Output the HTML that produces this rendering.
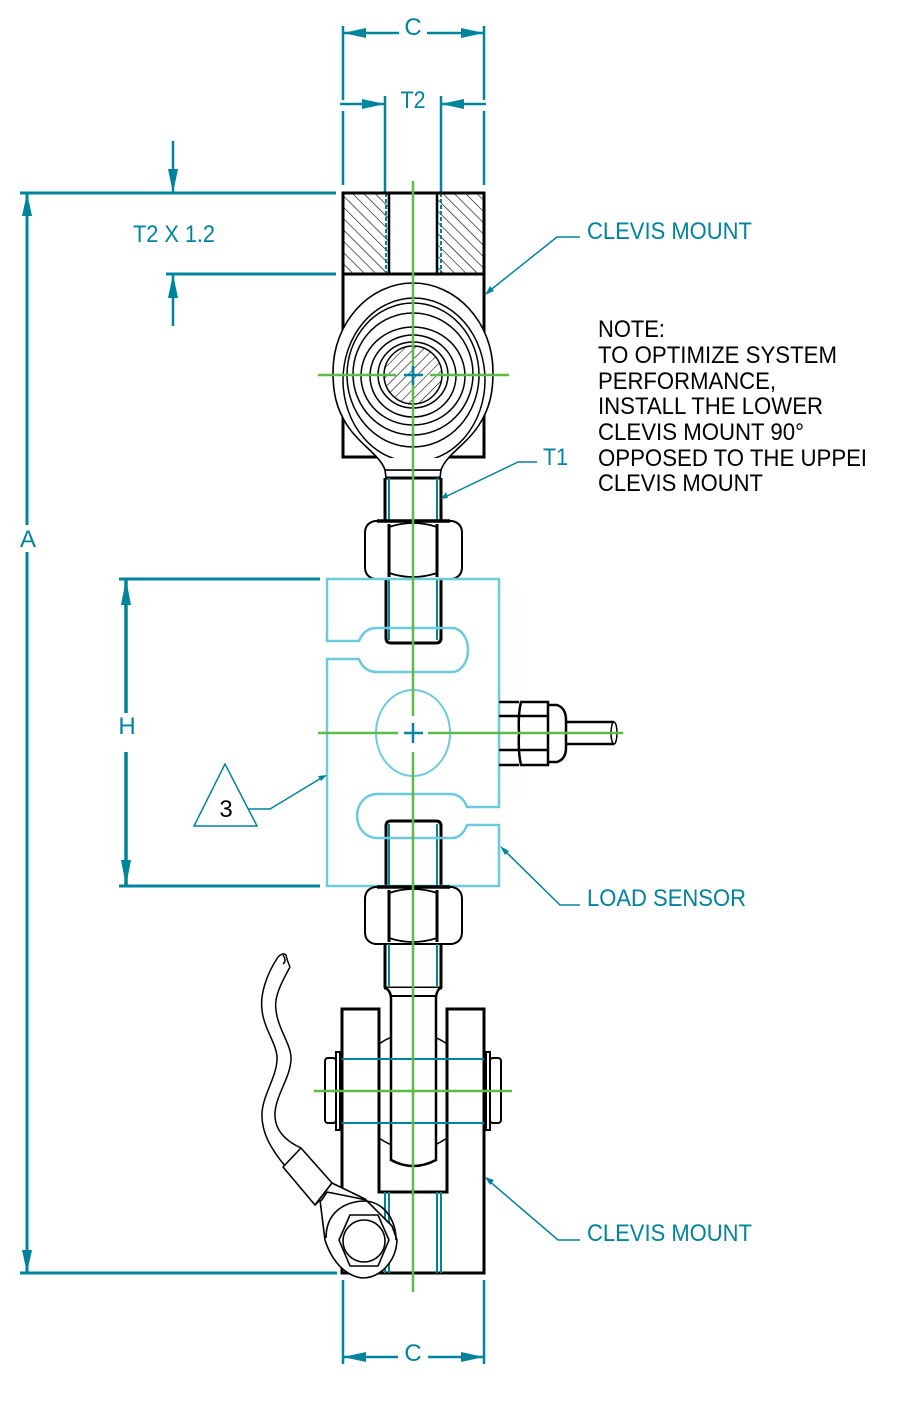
<!DOCTYPE html>
<html><head><meta charset="utf-8"><style>html,body{margin:0;padding:0;background:#fff}svg{display:block}text{font-family:"Liberation Sans",Arial,sans-serif}</style></head>
<body>
<svg width="898" height="1411" viewBox="0 0 898 1411" xmlns="http://www.w3.org/2000/svg">
<defs>
<pattern id="h1" patternUnits="userSpaceOnUse" width="8" height="8" patternTransform="rotate(-45)"><line x1="0" y1="0" x2="0" y2="8" stroke="#000" stroke-width="1.2"/></pattern>
<pattern id="h2" patternUnits="userSpaceOnUse" width="7" height="7" patternTransform="rotate(45)"><line x1="0" y1="0" x2="0" y2="7" stroke="#000" stroke-width="1.1"/></pattern>
<clipPath id="nc"><rect x="0" y="0" width="865" height="1411"/></clipPath>
</defs>
<rect width="898" height="1411" fill="#fff"/>

<!-- ===== Dimensions (teal) ===== -->
<g stroke="#00849b" stroke-width="2.5" fill="none">
  <!-- top C -->
  <line x1="343" y1="26" x2="343" y2="100"/><line x1="343" y1="111" x2="343" y2="185"/>
  <line x1="484" y1="26" x2="484" y2="100"/><line x1="484" y1="111" x2="484" y2="185"/>
  <line x1="343" y1="33" x2="399" y2="33"/><line x1="427" y1="33" x2="484" y2="33"/>
  <!-- T2 -->
  <line x1="340" y1="104" x2="385" y2="104"/><line x1="441" y1="104" x2="486" y2="104"/>
  <line x1="385" y1="96" x2="385" y2="193"/><line x1="441" y1="96" x2="441" y2="193"/>
  <!-- A -->
  <line x1="20" y1="193" x2="336" y2="193" stroke-width="3"/>
  <line x1="20" y1="1273" x2="337" y2="1273" stroke-width="3"/>
  <line x1="27" y1="193" x2="27" y2="525" stroke-width="3"/>
  <line x1="27" y1="552" x2="27" y2="1273" stroke-width="3"/>
  <!-- T2 x 1.2 -->
  <line x1="173" y1="141" x2="173" y2="193"/>
  <line x1="166" y1="274" x2="336" y2="274" stroke-width="3"/>
  <line x1="173" y1="274" x2="173" y2="326"/>
  <!-- H -->
  <line x1="119" y1="579" x2="320" y2="579" stroke-width="3"/>
  <line x1="119" y1="886" x2="320" y2="886" stroke-width="3"/>
  <line x1="126" y1="579" x2="126" y2="713" stroke-width="3.5"/>
  <line x1="126" y1="752" x2="126" y2="886" stroke-width="3.5"/>
  <!-- bottom C -->
  <line x1="343" y1="1280" x2="343" y2="1364"/><line x1="484" y1="1280" x2="484" y2="1364"/>
  <line x1="343" y1="1357" x2="398" y2="1357"/><line x1="428" y1="1357" x2="484" y2="1357"/>
</g>
<g fill="#00849b">
  <polygon points="343,33 366,28 366,38"/><polygon points="484,33 461,28 461,38"/>
  <polygon points="385,104 362,99 362,109"/><polygon points="441,104 464,99 464,109"/>
  <polygon points="27,193 22,216 32,216"/><polygon points="27,1273 22,1250 32,1250"/>
  <polygon points="173,193 168,169 178,169"/><polygon points="173,274 168,298 178,298"/>
  <polygon points="126,579 121,605 131,605"/><polygon points="126,886 121,860 131,860"/>
  <polygon points="343,1357 366,1352 366,1362"/><polygon points="484,1357 461,1352 461,1362"/>
</g>

<!-- ===== Top clevis block ===== -->
<rect x="343" y="193" width="46" height="81" fill="url(#h1)"/>
<rect x="437" y="193" width="47" height="81" fill="url(#h1)"/>
<g stroke="#00849b" stroke-width="2" stroke-dasharray="4 2"><line x1="386" y1="193" x2="386" y2="274"/><line x1="441" y1="193" x2="441" y2="274"/></g>
<g stroke="#000" stroke-width="2.5" fill="none">
  <line x1="389" y1="193" x2="389" y2="274"/><line x1="437" y1="193" x2="437" y2="274"/>
</g>
<rect x="343" y="193" width="141" height="81" fill="none" stroke="#000" stroke-width="3"/>
<!-- clevis body -->
<rect x="343" y="274" width="141" height="183" fill="none" stroke="#000" stroke-width="3"/>
<!-- eye -->
<path d="M385,470 C380,455 360,445 347,425 C336,408 333,392 333,372 C333,322 370,283 413,283 C456,283 493,322 493,372 C493,392 490,408 479,425 C466,445 446,455 441,470 Z" fill="#fff" stroke="#000" stroke-width="1.6"/>
<g fill="none" stroke="#000" stroke-width="1.5">
  <ellipse cx="414" cy="380" rx="71" ry="82"/>
  <ellipse cx="413" cy="375" rx="66" ry="72"/>
  <ellipse cx="413" cy="374" rx="60" ry="61"/>
  <ellipse cx="413" cy="376" rx="52" ry="49"/>
  <ellipse cx="413" cy="376" rx="43" ry="41"/>
  <ellipse cx="413" cy="375" rx="35" ry="33"/>
</g>
<circle cx="413" cy="375" r="29" fill="url(#h2)" stroke="#000" stroke-width="1.5"/>
<!-- neck and rod -->
<rect x="386" y="458" width="54" height="12" fill="#fff"/>
<g stroke="#000" stroke-width="1.6" fill="none">
  <line x1="385" y1="470" x2="441" y2="470"/>
  <line x1="385" y1="470" x2="386" y2="478"/><line x1="441" y1="470" x2="440" y2="478"/>
</g>
<g stroke="#000" stroke-width="3"><line x1="385" y1="478" x2="441" y2="478"/><line x1="385" y1="478" x2="385" y2="521"/><line x1="441" y1="478" x2="441" y2="521"/></g>
<g stroke="#00849b" stroke-width="2"><line x1="389" y1="478" x2="389" y2="521"/><line x1="437" y1="478" x2="437" y2="521"/></g>

<!-- nut 1 -->
<g fill="none" stroke="#000">
  <path d="M375,521 L452,521 Q462,523 462,533 L462,567 Q462,577 452,579 L375,579 Q365,577 365,567 L365,533 Q365,523 375,521 Z" stroke-width="2"/>
  <line x1="377" y1="521" x2="450" y2="521" stroke-width="3.5"/>
  <line x1="389" y1="524" x2="389" y2="577" stroke-width="3"/><line x1="437" y1="524" x2="437" y2="577" stroke-width="3"/>
  <path d="M389,527 Q413,519 437,527 M389,573 Q413,581 437,573" stroke-width="1.8"/>
</g>

<!-- ===== Load sensor ===== -->
<g stroke="#000" stroke-width="3" fill="none">
  <path d="M386,579 L386,638 Q386,643 391,643 L436,643 Q441,643 441,638 L441,579"/>
  <path d="M386,886 L386,826 Q386,821 391,821 L436,821 Q441,821 441,826 L441,886"/>
</g>
<g stroke="#00849b" stroke-width="2"><line x1="389" y1="579" x2="389" y2="640"/><line x1="437" y1="579" x2="437" y2="640"/><line x1="389" y1="824" x2="389" y2="886"/><line x1="437" y1="824" x2="437" y2="886"/></g>
<path d="M327,641 L327,579 L499,579 L499,807 L467,807 Q462,794 450,794 L377,794 A20,22 0 0 0 377,838 L452,838 Q462,838 467,825 L499,825 L499,886 L327,886 L327,659 L359,659 Q364,672 377,672 L452,672 A16,22 0 0 0 452,628 L377,628 Q364,628 359,641 Z" fill="none" stroke="#6ccadb" stroke-width="2.5"/>
<ellipse cx="413" cy="733" rx="37" ry="43" fill="none" stroke="#6ccadb" stroke-width="2"/>
<!-- connector -->
<g stroke="#000" stroke-width="2.5" fill="none">
  <line x1="499" y1="702" x2="519" y2="702"/><line x1="499" y1="716" x2="519" y2="716"/>
  <line x1="499" y1="750" x2="519" y2="750"/><line x1="499" y1="765" x2="519" y2="765"/>
  <path d="M521,702 L548,702 L548,765 L521,765 Q518,752 519,733 Q518,714 521,702 Z"/>
  <line x1="519" y1="716" x2="548" y2="716"/><line x1="519" y1="750" x2="548" y2="750"/>
  <path d="M548,705 L557,705 Q566,708 566,720 L566,748 Q566,759 557,762 L548,762"/>
  <line x1="566" y1="722" x2="614" y2="722"/><line x1="566" y1="744" x2="614" y2="744"/>
</g>
<ellipse cx="614" cy="733" rx="3" ry="11" fill="none" stroke="#000" stroke-width="1.5"/>

<!-- nut 2 -->
<g fill="none" stroke="#000">
  <path d="M375,887 L452,887 Q462,889 462,899 L462,932 Q462,942 452,944 L375,944 Q365,942 365,932 L365,899 Q365,889 375,887 Z" stroke-width="2"/>
  <line x1="377" y1="887" x2="450" y2="887" stroke-width="3.5"/>
  <line x1="389" y1="890" x2="389" y2="942" stroke-width="3"/><line x1="437" y1="890" x2="437" y2="942" stroke-width="3"/>
  <path d="M389,893 Q413,885 437,893 M389,938 Q413,946 437,938" stroke-width="1.8"/>
</g>
<!-- lower rod -->
<g stroke="#000" stroke-width="3"><line x1="385" y1="944" x2="385" y2="988"/><line x1="441" y1="944" x2="441" y2="988"/><line x1="384" y1="988" x2="442" y2="988"/></g>
<g stroke="#00849b" stroke-width="2"><line x1="389" y1="944" x2="389" y2="986"/><line x1="437" y1="944" x2="437" y2="986"/></g>
<!-- eye circle in clevis -->
<circle cx="413" cy="1091" r="58" fill="none" stroke="#000" stroke-width="1.5"/>
<!-- shank -->
<path d="M386,988 Q391,992 391,998 L391,1160 Q413,1172 436,1160 L436,998 Q436,992 440,988" fill="#fff" stroke="#000" stroke-width="2.5"/>
<line x1="391" y1="996" x2="436" y2="996" stroke="#000" stroke-width="2"/>
<!-- lower clevis -->
<path d="M342,1009 L379,1009 L379,1192 L447,1192 L447,1009 L484,1009 L484,1273 L342,1273 Z" fill="#fff" stroke="#000" stroke-width="3"/>
<g stroke="#00849b" stroke-width="2"><line x1="385" y1="1192" x2="385" y2="1273"/><line x1="389" y1="1192" x2="389" y2="1273"/><line x1="437" y1="1192" x2="437" y2="1273"/><line x1="441" y1="1192" x2="441" y2="1273"/></g>
<!-- pin -->
<g stroke="#00849b" stroke-width="2"><line x1="342" y1="1059" x2="484" y2="1059"/><line x1="342" y1="1123" x2="484" y2="1123"/></g>
<g fill="#fff" stroke="#000" stroke-width="2">
  <rect x="325" y="1058" width="11" height="65" rx="3"/>
  <rect x="336" y="1052" width="4" height="78"/>
  <rect x="490" y="1058" width="11" height="65" rx="3"/>
  <rect x="486" y="1052" width="4" height="78"/>
</g>

<!-- cable -->
<g fill="none" stroke="#000" stroke-width="1.5" stroke-linejoin="round">
  <path d="M278,957 C266,975 260,995 262,1010 C264,1030 278,1045 277,1060 C276,1078 263,1095 262,1113 C261,1133 272,1150 285,1166"/>
  <path d="M290,967 C280,985 274,998 276,1010 C278,1030 292,1045 291,1060 C290,1078 276,1095 275,1113 C274,1132 288,1142 301,1148"/>
  <path d="M278,957 Q283,952 286,955 Q287,960 290,967 M283,955 Q287,961 283,964"/>
</g>
<!-- connector on cable -->
<g stroke="#000" stroke-width="1.6" fill="#fff" stroke-linejoin="round">
  <polygon points="283,1167 301,1148 332,1183 315,1205"/>
  <path d="M315,1205 L320,1200 L325,1240 C332,1262 346,1276 362,1278 C380,1278 396,1262 397,1240 L392,1226 L365,1199 L332,1183 Z"/>
  <path d="M321,1201 L327,1192 L357,1198 L366,1200" fill="none"/>
  <path d="M326,1238 C326,1212 345,1201 366,1201 C386,1203 396,1222 396,1240" fill="none"/>
  <polygon points="350,1215 378,1215 389,1240 378,1266 350,1266 339,1240"/>
  <circle cx="364" cy="1241" r="21"/>
</g>

<!-- ===== centerlines ===== -->
<g stroke="#5fba47" stroke-width="2.5">
  <line x1="413" y1="181" x2="413" y2="716"/>
  <line x1="413" y1="752" x2="413" y2="1292"/>
  <line x1="318" y1="375" x2="396" y2="375"/><line x1="430" y1="375" x2="509" y2="375"/>
  <line x1="318" y1="733" x2="398" y2="733"/><line x1="428" y1="733" x2="623" y2="733"/>
  <line x1="314" y1="1091" x2="512" y2="1091"/>
</g>
<g stroke="#00849b" stroke-width="2.5">
  <line x1="404" y1="375" x2="423" y2="375"/><line x1="413" y1="366" x2="413" y2="385"/>
  <line x1="404" y1="733" x2="423" y2="733"/><line x1="413" y1="723" x2="413" y2="743"/>
</g>

<!-- ===== leaders ===== -->
<g stroke="#00849b" stroke-width="1.5" fill="none">
  <path d="M580,237 L557,237 L488,292"/>
  <path d="M537,462 L518,462 L445,497"/>
  <path d="M580,905 L560,905 L503,849"/>
  <path d="M580,1240 L558,1240 L488,1180"/>
  <path d="M248,809 L270,809 L323,777"/>
  <polygon points="225,764 194,826 257,826" fill="#fff"/>
</g>
<g fill="#00849b">
  <polygon points="485,295 490,286 494,291"/>
  <polygon points="441,499 446,492 448,498"/>
  <polygon points="500,846 509,851 505,855"/>
  <polygon points="485,1177 494,1180 490,1185"/>
  <polygon points="327,775 318,776 321,781"/>
</g>

<!-- ===== text ===== -->
<g fill="#00849b" font-size="24">
  <text x="413" y="35" text-anchor="middle">C</text>
  <text x="413" y="108" text-anchor="middle" textLength="25" lengthAdjust="spacingAndGlyphs">T2</text>
  <text x="133" y="242" textLength="82" lengthAdjust="spacingAndGlyphs">T2 X 1.2</text>
  <text x="28" y="547" text-anchor="middle">A</text>
  <text x="127" y="734" text-anchor="middle">H</text>
  <text x="413" y="1361" text-anchor="middle">C</text>
  <text x="587" y="239" textLength="165" lengthAdjust="spacingAndGlyphs">CLEVIS MOUNT</text>
  <text x="543" y="465" textLength="25" lengthAdjust="spacingAndGlyphs">T1</text>
  <text x="587" y="906" textLength="159" lengthAdjust="spacingAndGlyphs">LOAD SENSOR</text>
  <text x="587" y="1241" textLength="165" lengthAdjust="spacingAndGlyphs">CLEVIS MOUNT</text>
</g>
<text x="226" y="817" text-anchor="middle" font-size="24" fill="#000">3</text>
<g fill="#000" font-size="24" clip-path="url(#nc)">
  <text x="598" y="337" textLength="67" lengthAdjust="spacingAndGlyphs">NOTE:</text>
  <text x="598" y="363" textLength="239" lengthAdjust="spacingAndGlyphs">TO OPTIMIZE SYSTEM</text>
  <text x="598" y="389" textLength="178" lengthAdjust="spacingAndGlyphs">PERFORMANCE,</text>
  <text x="598" y="414" textLength="225" lengthAdjust="spacingAndGlyphs">INSTALL THE LOWER</text>
  <text x="598" y="440" textLength="206" lengthAdjust="spacingAndGlyphs">CLEVIS MOUNT 90°</text>
  <text x="598" y="466" textLength="279" lengthAdjust="spacingAndGlyphs">OPPOSED TO THE UPPER</text>
  <text x="598" y="491" textLength="165" lengthAdjust="spacingAndGlyphs">CLEVIS MOUNT</text>
</g>
</svg>
</body></html>
